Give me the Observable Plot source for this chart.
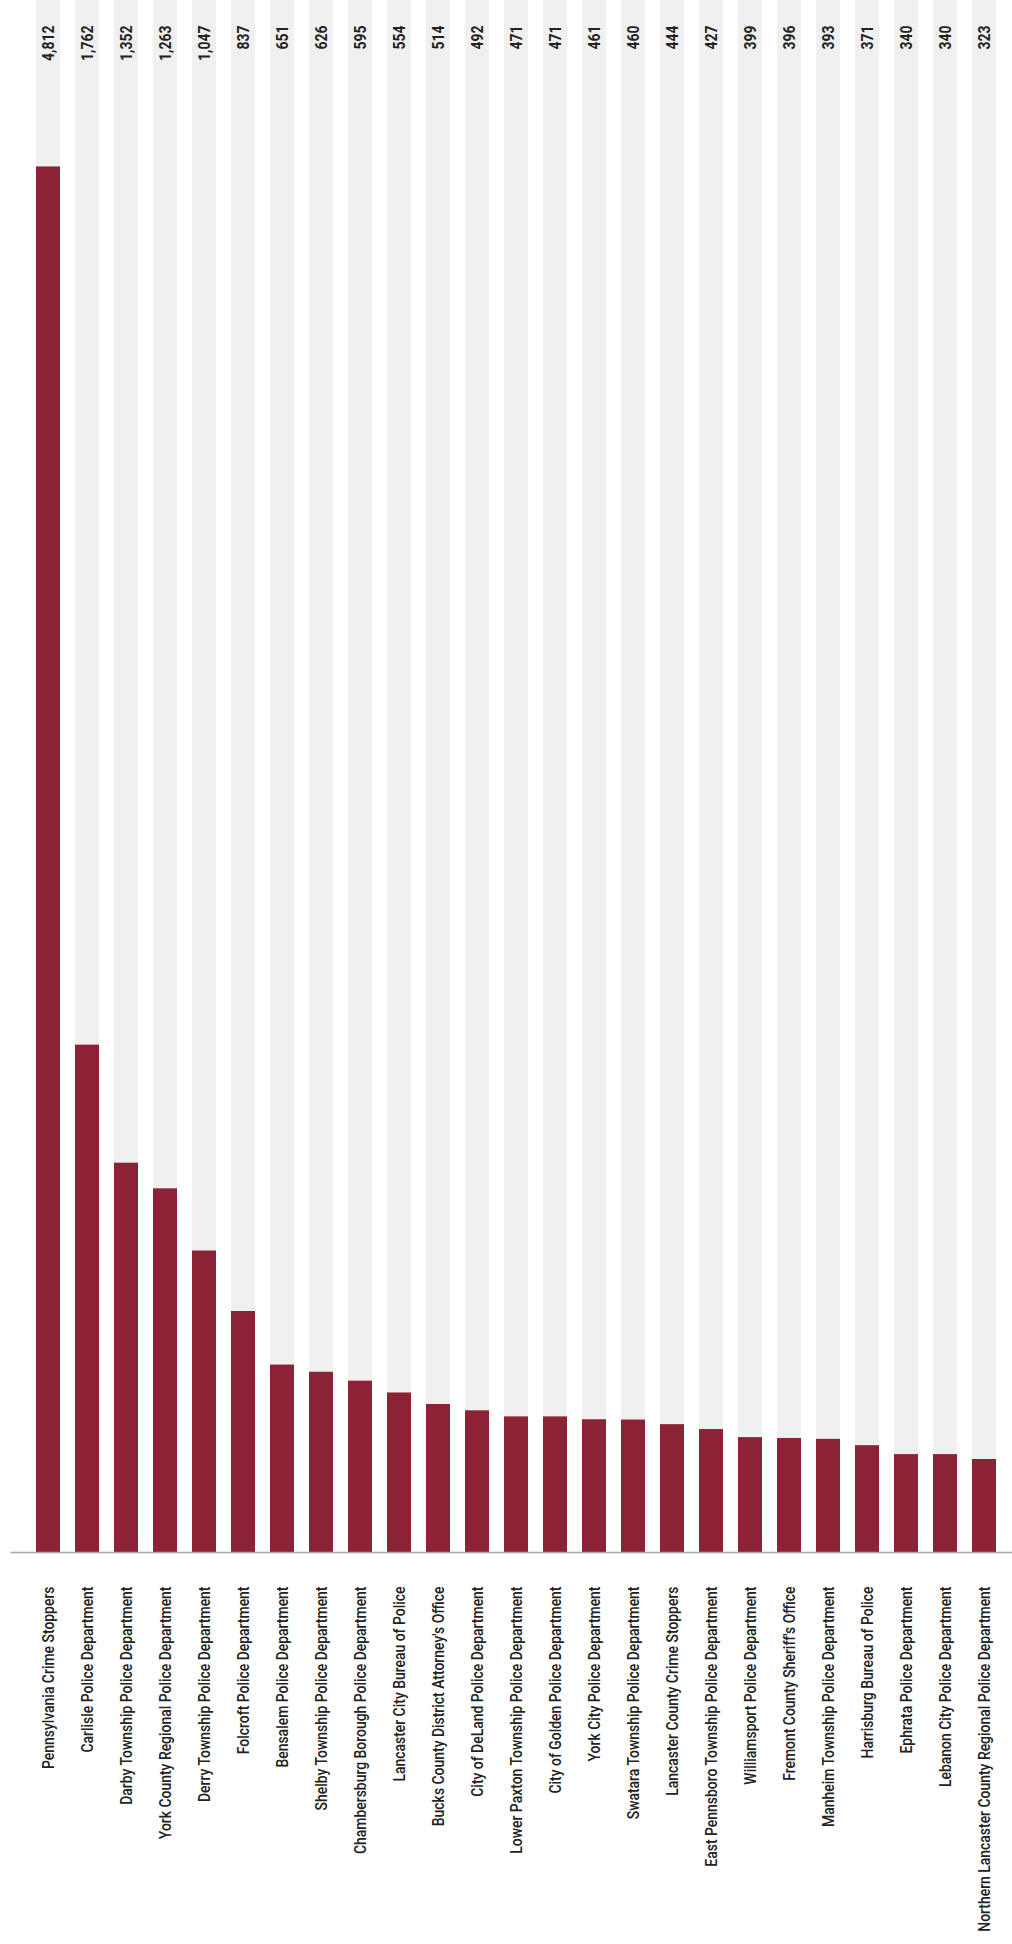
<!DOCTYPE html>
<html>
<head>
<meta charset="utf-8">
<script src="https://cdn.jsdelivr.net/npm/d3@7"></script>
<script src="https://cdn.jsdelivr.net/npm/@observablehq/plot@0.6"></script>
<style>
  html, body { margin: 0; padding: 0; background: #fff; }
  #chart svg { display: block; font-family: Roboto, "Liberation Sans", sans-serif; }
</style>
</head>
<body>
<div id="chart"></div>
<script>
// Agencies, in ranked order
const agencies = [
  "Pennsylvania Crime Stoppers",
  "Carlisle Police Department",
  "Darby Township Police Department",
  "York County Regional Police Department",
  "Derry Township Police Department",
  "Folcroft Police Department",
  "Bensalem Police Department",
  "Shelby Township Police Department",
  "Chambersburg Borough Police Department",
  "Lancaster City Bureau of Police",
  "Bucks County District Attorney's Office",
  "City of DeLand Police Department",
  "Lower Paxton Township Police Department",
  "City of Golden Police Department",
  "York City Police Department",
  "Swatara Township Police Department",
  "Lancaster County Crime Stoppers",
  "East Pennsboro Township Police Department",
  "Williamsport Police Department",
  "Fremont County Sheriff's Office",
  "Manheim Township Police Department",
  "Harrisburg Bureau of Police",
  "Ephrata Police Department",
  "Lebanon City Police Department",
  "Northern Lancaster County Regional Police Department"
];

// Count for each agency
const counts = [
  4812, 1762, 1352, 1263, 1047, 837, 651, 626, 595, 554, 514, 492, 471,
  471, 461, 460, 444, 427, 399, 396, 393, 371, 340, 340, 323
];

// Top of the value axis (height of the pale background columns)
const yTop = 5390;

const rows = agencies.map((agency, i) => ({agency, count: counts[i]}));
const fmt = d3.format(",");

const chart = Plot.plot({
  width: 1012,
  height: 1944,
  marginTop: 0,
  marginBottom: 392,
  marginLeft: 28.5,
  marginRight: 8.5,
  x: {domain: agencies, paddingInner: 0.385, paddingOuter: 0.1923, axis: null},
  y: {domain: [0, yTop], axis: null},
  marks: [
    // pale full-height columns behind each bar
    Plot.barY(rows, {x: "agency", y: () => yTop, fill: "#f0f0f0"}),
    // the counts
    Plot.barY(rows, {x: "agency", y: "count", fill: "#8b2236"}),
    // baseline
    Plot.ruleY([0], {stroke: "#a8a8a8", strokeWidth: 1.5, insetLeft: -18, insetRight: -8.5}),
    // value labels along the top
    Plot.text(rows, {
      x: "agency",
      frameAnchor: "top",
      dy: 25,
      text: d => fmt(d.count),
      rotate: -90,
      textAnchor: "end",
      lineAnchor: "middle",
      fontSize: 17,
      fontWeight: "bold",
      fill: "#222"
    }),
    // agency names under the baseline
    Plot.text(rows, {
      x: "agency",
      frameAnchor: "bottom",
      dy: 34,
      text: "agency",
      rotate: -90,
      textAnchor: "end",
      lineAnchor: "middle",
      fontSize: 17,
      fontWeight: 500,
      fill: "#222"
    })
  ]
});

// condensed lettering: squeeze every label along its reading direction
d3.select(chart).selectAll("text").attr("transform", function () {
  return (this.getAttribute("transform") || "") + " scale(0.82,1)";
});

document.getElementById("chart").append(chart);
</script>
</body>
</html>
